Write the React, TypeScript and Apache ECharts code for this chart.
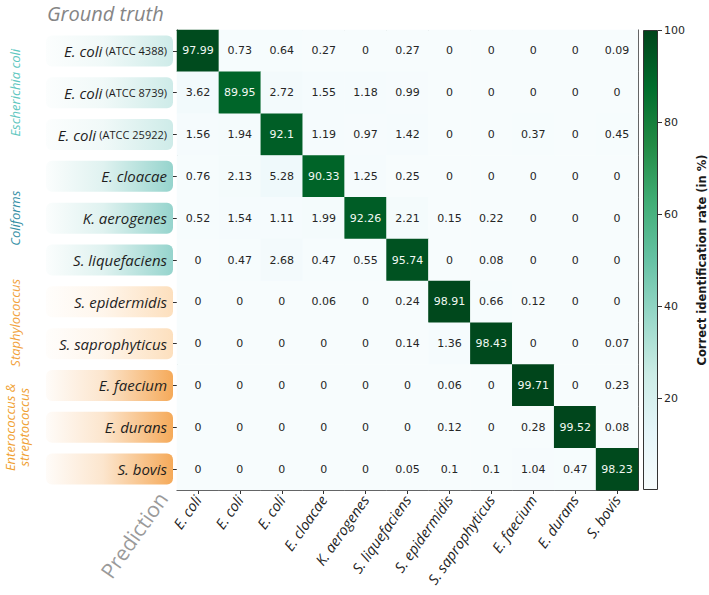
import React, { useEffect, useRef } from 'react';
import * as echarts from 'echarts';

// Ground-truth classes (rows) and the strain shown next to each E. coli row
const truthClasses = [
  'E. coli', 'E. coli', 'E. coli', 'E. cloacae', 'K. aerogenes', 'S. liquefaciens',
  'S. epidermidis', 'S. saprophyticus', 'E. faecium', 'E. durans', 'S. bovis',
];
const truthStrains = ['ATCC 4388', 'ATCC 8739', 'ATCC 25922', '', '', '', '', '', '', '', ''];

// Predicted classes (columns)
const predictedClasses = [
  'E. coli', 'E. coli', 'E. coli', 'E. cloacae', 'K. aerogenes', 'S. liquefaciens',
  'S. epidermidis', 'S. saprophyticus', 'E. faecium', 'E. durans', 'S. bovis',
];

// Identification rates in %, one row per ground-truth class
const row1 = [97.99, 0.73, 0.64, 0.27, 0, 0.27, 0, 0, 0, 0, 0.09];
const row2 = [3.62, 89.95, 2.72, 1.55, 1.18, 0.99, 0, 0, 0, 0, 0];
const row3 = [1.56, 1.94, 92.1, 1.19, 0.97, 1.42, 0, 0, 0.37, 0, 0.45];
const row4 = [0.76, 2.13, 5.28, 90.33, 1.25, 0.25, 0, 0, 0, 0, 0];
const row5 = [0.52, 1.54, 1.11, 1.99, 92.26, 2.21, 0.15, 0.22, 0, 0, 0];
const row6 = [0, 0.47, 2.68, 0.47, 0.55, 95.74, 0, 0.08, 0, 0, 0];
const row7 = [0, 0, 0, 0.06, 0, 0.24, 98.91, 0.66, 0.12, 0, 0];
const row8 = [0, 0, 0, 0, 0, 0.14, 1.36, 98.43, 0, 0, 0.07];
const row9 = [0, 0, 0, 0, 0, 0, 0.06, 0, 99.71, 0, 0.23];
const row10 = [0, 0, 0, 0, 0, 0, 0.12, 0, 0.28, 99.52, 0.08];
const row11 = [0, 0, 0, 0, 0, 0.05, 0.1, 0.1, 1.04, 0.47, 98.23];
const rates = [row1, row2, row3, row4, row5, row6, row7, row8, row9, row10, row11];

// Colour bar scale
const rateMin = 0;
const rateMax = 100;
const colorbarTicks = [20, 40, 60, 80, 100];

// Bacterial groups and the rows (first, last) they span
const groupNames = ['Escherichia coli', 'Coliforms', 'Staphylococcus', 'Enterococcus &\nstreptococcus'];
const groupRows = [[0, 2], [3, 5], [6, 7], [8, 10]];

// ---- styling ----
const BU_GN = ['#f7fcfd', '#e5f5f9', '#ccece6', '#99d8c9', '#66c2a4', '#41ae76', '#238b45', '#006d2c', '#00441b'];
const groupTextColors = ['#5ec7c0', '#3690a6', '#f2a23c', '#f0a030'];
const groupBoxColors = [
  [166, 219, 214],
  [150, 212, 205],
  [252, 213, 168],
  [245, 170, 90],
];
const boxAlphaEnd = [0.55, 1, 0.75, 1];
const LABEL_FONT = '"Open Sans", "Noto Sans", sans-serif';
const MPL_FONT = '"DejaVu Sans", sans-serif';

const GRID = { left: 177, top: 30, width: 461, height: 460 };
const CBAR = { left: 643, top: 30, width: 23, height: 460 };

export default function App() {
  const ref = useRef<HTMLDivElement>(null);

  useEffect(() => {
    if (!ref.current) return;
    const chart = echarts.init(ref.current, null, { renderer: 'svg' });

    const cells: any[] = [];
    rates.forEach((row, r) => {
      row.forEach((v, c) => {
        const item: any = { value: [c, r, v] };
        if (v > 50) item.label = { color: '#f2f8f2' };
        cells.push(item);
      });
    });

    const lineStyle = { color: '#333333', width: 1 };

    chart.setOption({
      animation: false,
      backgroundColor: '#ffffff',
      grid: [
        { ...GRID, containLabel: false },
        { ...CBAR, containLabel: false },
      ],
      xAxis: [
        {
          type: 'category',
          gridIndex: 0,
          data: predictedClasses,
          position: 'bottom',
          axisLine: { show: true, lineStyle },
          axisTick: { show: true, alignWithLabel: true, length: 4, lineStyle },
          axisLabel: {
            rotate: 55,
            interval: 0,
            margin: 7,
            fontFamily: LABEL_FONT,
            fontStyle: 'italic',
            fontSize: 14.5,
            color: '#1e1e1e',
          },
          splitLine: { show: false },
        },
        {
          type: 'category',
          gridIndex: 0,
          data: predictedClasses,
          position: 'top',
          axisLine: { show: true, lineStyle },
          axisTick: { show: false },
          axisLabel: { show: false },
        },
        {
          type: 'category',
          gridIndex: 1,
          data: ['rate'],
          show: false,
        },
      ],
      yAxis: [
        {
          type: 'category',
          gridIndex: 0,
          data: truthClasses,
          inverse: true,
          position: 'left',
          axisLine: { show: true, lineStyle },
          axisTick: { show: true, alignWithLabel: true, length: 4, lineStyle },
          axisLabel: {
            interval: 0,
            margin: 10,
            formatter: (value: string, idx: number) =>
              truthStrains[idx]
                ? `{i|${value}} {s|(${truthStrains[idx]})}`
                : `{i|${value}}`,
            rich: {
              i: { fontFamily: LABEL_FONT, fontStyle: 'italic', fontSize: 15, color: '#1e1e1e' },
              s: { fontFamily: LABEL_FONT, fontSize: 11, color: '#1e1e1e' },
            },
          },
          splitLine: { show: false },
        },
        {
          type: 'category',
          gridIndex: 0,
          data: truthClasses,
          inverse: true,
          position: 'right',
          axisLine: { show: true, lineStyle },
          axisTick: { show: false },
          axisLabel: { show: false },
        },
        {
          type: 'value',
          gridIndex: 1,
          min: rateMin,
          max: rateMax,
          interval: 20,
          position: 'right',
          axisLine: { show: false },
          axisTick: { show: true, length: 4, lineStyle, customValues: colorbarTicks },
          axisLabel: {
            customValues: colorbarTicks,
            margin: 6,
            fontFamily: MPL_FONT,
            fontSize: 11,
            color: '#262626',
          },
          splitLine: { show: false },
          name: 'Correct identification rate (in %)',
          nameLocation: 'middle',
          nameRotate: 90,
          nameGap: 38,
          nameTextStyle: { fontFamily: MPL_FONT, fontWeight: 'bold', fontSize: 11.5, color: '#1a1a1a' },
        },
      ],
      visualMap: {
        type: 'continuous',
        show: false,
        min: rateMin,
        max: rateMax,
        dimension: 2,
        seriesIndex: 0,
        inRange: { color: BU_GN },
      },
      series: [
        {
          type: 'heatmap',
          xAxisIndex: 0,
          yAxisIndex: 0,
          data: cells,
          label: {
            show: true,
            formatter: (p: any) => String(p.value[2]),
            fontFamily: MPL_FONT,
            fontSize: 11,
            color: '#262626',
          },
          itemStyle: { borderWidth: 0 },
          emphasis: { disabled: true },
        },
        {
          type: 'bar',
          xAxisIndex: 2,
          yAxisIndex: 2,
          data: [rateMax],
          barWidth: '100%',
          silent: true,
          itemStyle: {
            color: new echarts.graphic.LinearGradient(
              0, 1, 0, 0,
              BU_GN.map((c, i) => ({ offset: i / (BU_GN.length - 1), color: c }))
            ),
            borderColor: '#333333',
            borderWidth: 1,
          },
        },
      ],
    });

    // Label backgrounds, group captions and axis titles, placed from the axis scale
    const rowY = (i: number) => chart.convertToPixel({ yAxisIndex: 0 }, i) as number;
    const groupOf = (r: number) => groupRows.findIndex(([a, b]) => r >= a && r <= b);

    const boxes = truthClasses.map((_, r) => {
      const g = groupOf(r);
      const [cr, cg, cb] = groupBoxColors[g];
      const cy = rowY(r);
      return {
        type: 'rect',
        z: -10,
        silent: true,
        shape: { x: 46, y: cy - 15.5, width: 127, height: 31, r: 6 },
        style: {
          fill: new echarts.graphic.LinearGradient(0, 0, 1, 0, [
            { offset: 0, color: `rgba(${cr},${cg},${cb},0.04)` },
            { offset: 0.45, color: `rgba(${cr},${cg},${cb},${0.3 * boxAlphaEnd[g]})` },
            { offset: 1, color: `rgba(${cr},${cg},${cb},${boxAlphaEnd[g]})` },
          ]),
        },
      };
    });

    const captions = groupNames.map((name, g) => {
      const [a, b] = groupRows[g];
      const cy = (rowY(a) + rowY(b)) / 2;
      const twoLines = name.includes('\n');
      return {
        type: 'text',
        silent: true,
        x: twoLines ? 17 : 15,
        y: cy,
        rotation: Math.PI / 2,
        style: {
          text: name,
          fill: groupTextColors[g],
          font: `italic 13px ${LABEL_FONT}`,
          align: 'center',
          verticalAlign: 'middle',
          lineHeight: 14,
        },
      };
    });

    chart.setOption({
      graphic: [
        ...boxes,
        ...captions,
        {
          type: 'text',
          silent: true,
          x: 47,
          y: 3,
          style: {
            text: 'Ground truth',
            fill: '#858585',
            font: `italic 20px ${LABEL_FONT}`,
            align: 'left',
            verticalAlign: 'top',
          },
        },
        {
          type: 'text',
          silent: true,
          x: 134,
          y: 535,
          rotation: (55 * Math.PI) / 180,
          style: {
            text: 'Prediction',
            fill: '#9a9a9a',
            font: `21px ${LABEL_FONT}`,
            align: 'center',
            verticalAlign: 'middle',
          },
        },
      ],
    });

    return () => chart.dispose();
  }, []);

  return (
    <div
      ref={ref}
      style={{ position: 'fixed', left: 0, top: 0, width: 709, height: 595 }}
    />
  );
}
